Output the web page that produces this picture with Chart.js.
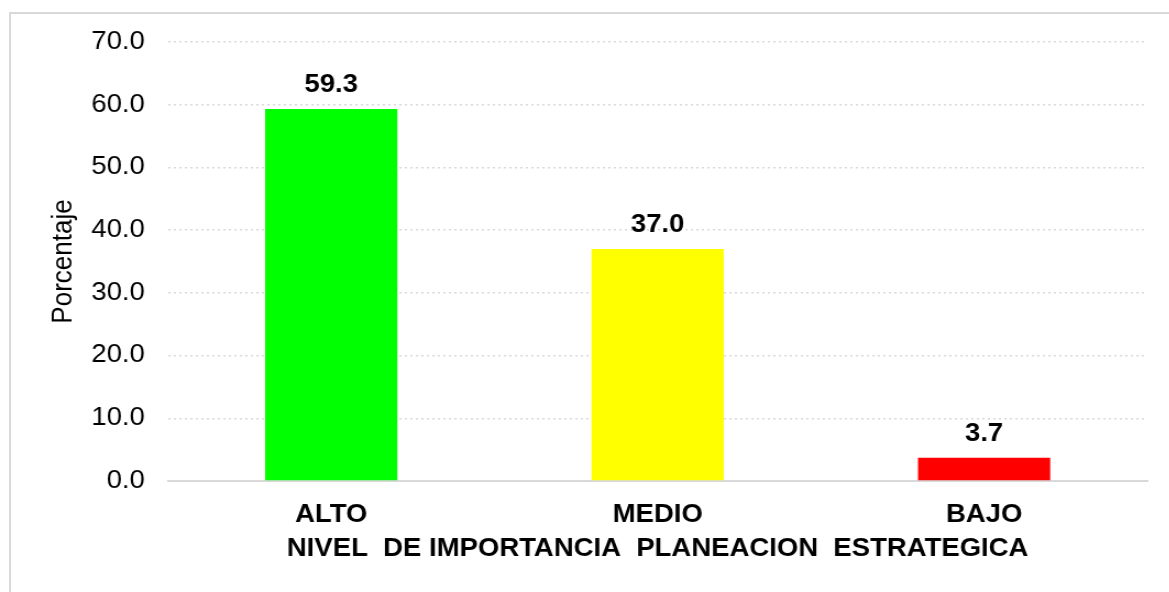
<!DOCTYPE html>
<html>
<head>
<meta charset="utf-8">
<script src="https://cdn.jsdelivr.net/npm/chart.js@4.4.0/dist/chart.umd.min.js"></script>
<style>
    html, body { margin: 0; padding: 0; background: #fff; overflow: hidden; }
    #frame {
        position: absolute;
        left: 9px;
        top: 12px;
        width: 1200px;
        height: 620px;
        border: 2px solid #d9d9d9;
    }
    /* the original picture is stretched a bit sideways */
    #myChart {
        position: absolute;
        left: 0;
        top: 0;
        transform: scaleX(1.1);
        transform-origin: 0 0;
    }
</style>
</head>
<body>
<div id="frame"></div>
<canvas id="myChart" width="1063" height="592"></canvas>
<script>
// niveles y porcentajes
const niveles = ["ALTO", "MEDIO", "BAJO"];
const porcentajes = [59.3, 37.0, 3.7];
const colores = ["#00ff00", "#ffff00", "#ff0000"];
const tituloX = "NIVEL  DE IMPORTANCIA  PLANEACION  ESTRATEGICA";
const tituloY = "Porcentaje";

const fuente = "'Liberation Sans', Arial, sans-serif";

// etiquetas encima de las barras
const etiquetas = {
    id: "etiquetas",
    afterDatasetsDraw(chart) {
        const ctx = chart.ctx;
        const meta = chart.getDatasetMeta(0);
        ctx.save();
        ctx.font = "bold 25px " + fuente;
        ctx.fillStyle = "#000";
        ctx.textAlign = "center";
        ctx.textBaseline = "alphabetic";
        meta.data.forEach((bar, i) => {
            ctx.fillText(porcentajes[i].toFixed(1), bar.x, bar.y - 17);
        });
        ctx.restore();
    }
};

var ctx = document.getElementById("myChart").getContext("2d");

var myChart = new Chart(ctx, {
    type: "bar",
    data: {
        labels: niveles,
        datasets: [
            {
                data: porcentajes,
                backgroundColor: colores,
                borderWidth: 0,
                barPercentage: 0.405,
                categoryPercentage: 1
            }
        ]
    },
    options: {
        responsive: false,
        animation: false,
        devicePixelRatio: 1,
        layout: {
            padding: { left: 42, right: 20, top: 42, bottom: 0 }
        },
        plugins: {
            legend: { display: false },
            tooltip: { enabled: false }
        },
        scales: {
            x: {
                grid: { display: false, drawTicks: false },
                border: { display: true, color: "#d9d9d9", width: 2 },
                ticks: {
                    color: "#000",
                    padding: 19,
                    font: { family: fuente, size: 25, weight: "bold" }
                },
                title: {
                    display: true,
                    text: tituloX,
                    color: "#000",
                    padding: { top: 0, bottom: 28 },
                    font: { family: fuente, size: 25, weight: "bold" }
                },
                afterFit: scale => { scale.height = 111; }
            },
            y: {
                min: 0,
                max: 70,
                grid: {
                    color: "#d9d9d9",
                    lineWidth: 1.5,
                    drawTicks: false
                },
                border: { display: false, dash: [2, 3] },
                ticks: {
                    stepSize: 10,
                    color: "#000",
                    padding: 21,
                    font: { family: fuente, size: 25 },
                    callback: v => v.toFixed(1)
                },
                title: {
                    display: true,
                    text: tituloY,
                    color: "#000",
                    padding: { top: 0, bottom: 4 },
                    font: { family: fuente, size: 26 }
                },
                afterFit: scale => { scale.width = 110.7; }
            }
        }
    },
    plugins: [etiquetas]
});
</script>
</body>
</html>
